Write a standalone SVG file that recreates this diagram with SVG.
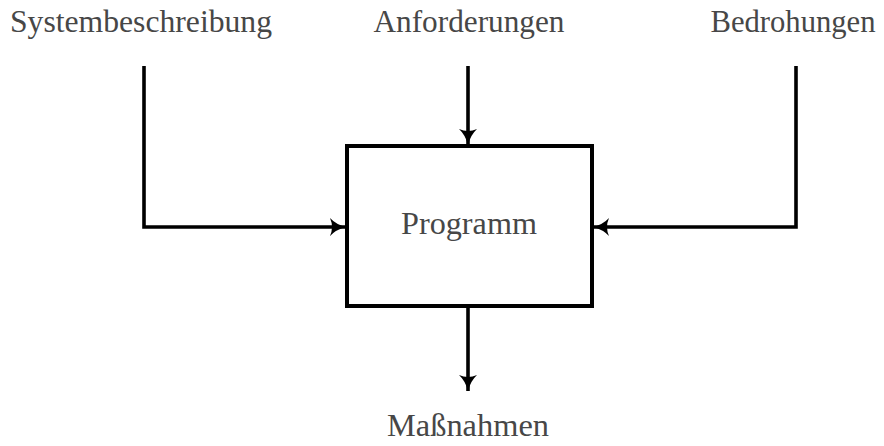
<svg xmlns="http://www.w3.org/2000/svg" width="884" height="446" viewBox="0 0 884 446">
  <style>
    .lbl { font-family: "Liberation Serif", "DejaVu Serif", serif; font-size: 31px; fill: #474747; text-anchor: middle; }
    .wire { fill: none; stroke: #000; stroke-width: 3.6; stroke-linejoin: miter; }
    .box { fill: #fff; stroke: #000; stroke-width: 4; }
  </style>
  <defs>
    <!-- curved arrowhead, 16 long and 18 wide -->
    <marker id="tip" viewBox="0 0 18 18" refX="17" refY="9" markerWidth="18" markerHeight="18" markerUnits="userSpaceOnUse" orient="auto">
      <path d="M1,0 Q7,6.5 17,9 Q7,11.5 1,18 Q5,9 1,0 Z" fill="#000"/>
    </marker>
  </defs>

  <g id="connectors">
    <path class="wire" d="M144,66 V227 H346" marker-end="url(#tip)"/>
    <path class="wire" d="M468,66 V145" marker-end="url(#tip)"/>
    <path class="wire" d="M796,66 V227 H593" marker-end="url(#tip)"/>
    <path class="wire" d="M468,308 V391" marker-end="url(#tip)"/>
  </g>

  <g id="programm">
    <rect class="box" x="347" y="146" width="245" height="160"/>
    <text class="lbl" x="469" y="234" textLength="136" lengthAdjust="spacingAndGlyphs">Programm</text>
  </g>
  <g id="systembeschreibung">
    <text class="lbl" x="141" y="32" textLength="262" lengthAdjust="spacingAndGlyphs">Systembeschreibung</text>
  </g>
  <g id="anforderungen">
    <text class="lbl" x="469" y="32" textLength="191" lengthAdjust="spacingAndGlyphs">Anforderungen</text>
  </g>
  <g id="bedrohungen">
    <text class="lbl" x="793" y="32" textLength="165" lengthAdjust="spacingAndGlyphs">Bedrohungen</text>
  </g>
  <g id="massnahmen">
    <text class="lbl" x="468" y="436" textLength="162" lengthAdjust="spacingAndGlyphs">Maßnahmen</text>
  </g>
</svg>
